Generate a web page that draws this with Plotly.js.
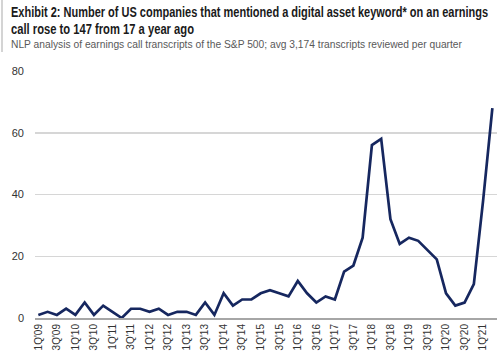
<!DOCTYPE html>
<html>
<head>
<meta charset="utf-8">
<script src="https://cdn.plot.ly/plotly-3.0.1.min.js"></script>
<style>html,body{margin:0;padding:0;background:#fff;}#chart{width:499px;height:358px;}</style>
</head>
<body>
<div id="chart"></div>
<script>
const quarters = ["1Q'09","2Q'09","3Q'09","4Q'09","1Q'10","2Q'10","3Q'10","4Q'10",
  "1Q'11","2Q'11","3Q'11","4Q'11","1Q'12","2Q'12","3Q'12","4Q'12",
  "1Q'13","2Q'13","3Q'13","4Q'13","1Q'14","2Q'14","3Q'14","4Q'14",
  "1Q'15","2Q'15","3Q'15","4Q'15","1Q'16","2Q'16","3Q'16","4Q'16",
  "1Q'17","2Q'17","3Q'17","4Q'17","1Q'18","2Q'18","3Q'18","4Q'18",
  "1Q'19","2Q'19","3Q'19","4Q'19","1Q'20","2Q'20","3Q'20","4Q'20",
  "1Q'21","2Q'21"];
const companies = [1,2,1,3,1,5,1,4,
  2,0,3,3,2,3,1,2,
  2,1,5,1,8,4,6,6,
  8,9,8,7,12,8,5,7,
  6,15,17,26,56,58,32,24,
  26,25,22,19,8,4,5,11,
  38,68];
const tickLabels = ["1Q'09","3Q'09","1Q'10","3Q'10","1Q'11","3Q'11","1Q'12","3Q'12",
  "1Q'13","3Q'13","1Q'14","3Q'14","1Q'15","3Q'15","1Q'16","3Q'16",
  "1Q'17","3Q'17","1Q'18","3Q'18","1Q'19","3Q'19","1Q'20","3Q'20","1Q'21"];
const yTicks = [0,20,40,60,80];

const titleLines = ["Exhibit 2: Number of US companies that mentioned a digital asset keyword* on an earnings",
                    "call rose to 147 from 17 a year ago"];
const subtitleText = "NLP analysis of earnings call transcripts of the S&P 500; avg 3,174 transcripts reviewed per quarter";

// pixel -> paper helpers (plot area: x 35..497, y 71..318)
const PL = 35, PW = 462, PB = 318, PH = 247;
const xp = px => (px - PL) / PW;
const yp = py => (PB - py) / PH;

const trace = {
  x: quarters,
  y: companies,
  type: 'scatter',
  mode: 'lines',
  line: {color: '#16275f', width: 2.7},
  hoverinfo: 'skip'
};

const headFont = 'Liberation Sans, Arial, sans-serif';
const textWidths = [477, 183, 451];

function headAnn(text, py, size, color, w) {
  return {text: text, xref: 'paper', yref: 'paper', x: xp(10), y: yp(py),
    xanchor: 'left', yanchor: 'middle', align: 'left', showarrow: false, borderpad: 0,
    width: w + 4, font: {family: headFont, size: size, color: color}};
}

const layout = {
  width: 499, height: 358,
  margin: {l: PL, r: 499 - PL - PW, t: 71, b: 40, pad: 0},
  paper_bgcolor: '#ffffff', plot_bgcolor: '#ffffff',
  showlegend: false,
  annotations: [
    headAnn('<b>' + titleLines[0] + '</b>', 12, 14.5, '#1a1a1a', textWidths[0]),
    headAnn('<b>' + titleLines[1] + '</b>', 28.6, 14.5, '#1a1a1a', textWidths[1]),
    headAnn(subtitleText, 44, 11, '#595959', textWidths[2])
  ],
  shapes: [{
    type: 'line', xref: 'paper', yref: 'paper',
    x0: xp(2), x1: xp(2), y0: yp(0), y1: yp(52),
    line: {color: '#d4d4d4', width: 2}
  }],
  xaxis: {
    type: 'category',
    range: [-0.36, 49.5],
    tickmode: 'array',
    tickvals: tickLabels,
    ticktext: tickLabels,
    tickangle: -90,
    tickfont: {family: 'Liberation Sans, Arial, sans-serif', size: 10, color: '#333333'},
    ticks: '',
    showgrid: false,
    showline: true,
    linecolor: '#a6a6a6',
    linewidth: 2,
    zeroline: false,
    automargin: false,
    fixedrange: true
  },
  yaxis: {
    range: [0, 80],
    tickmode: 'array',
    tickvals: yTicks,
    ticktext: yTicks.map(String),
    tickfont: {family: 'Liberation Sans, Arial, sans-serif', size: 11, color: '#333333'},
    ticks: '',
    ticklabelstandoff: 10,
    showgrid: true,
    gridcolor: '#d6d6d6',
    gridwidth: 1.5,
    showline: false,
    zeroline: false,
    automargin: false,
    fixedrange: true
  }
};

Plotly.newPlot('chart', [trace], layout, {displayModeBar: false, staticPlot: true}).then(gd => {
  // condense the heading texts to the reference's narrow typeface widths
  const texts = gd.querySelectorAll('.annotation-text');
  texts.forEach((t, i) => {
    if (textWidths[i]) {
      t.setAttribute('textLength', textWidths[i]);
      t.setAttribute('lengthAdjust', 'spacingAndGlyphs');
    }
  });
});
</script>
</body>
</html>
